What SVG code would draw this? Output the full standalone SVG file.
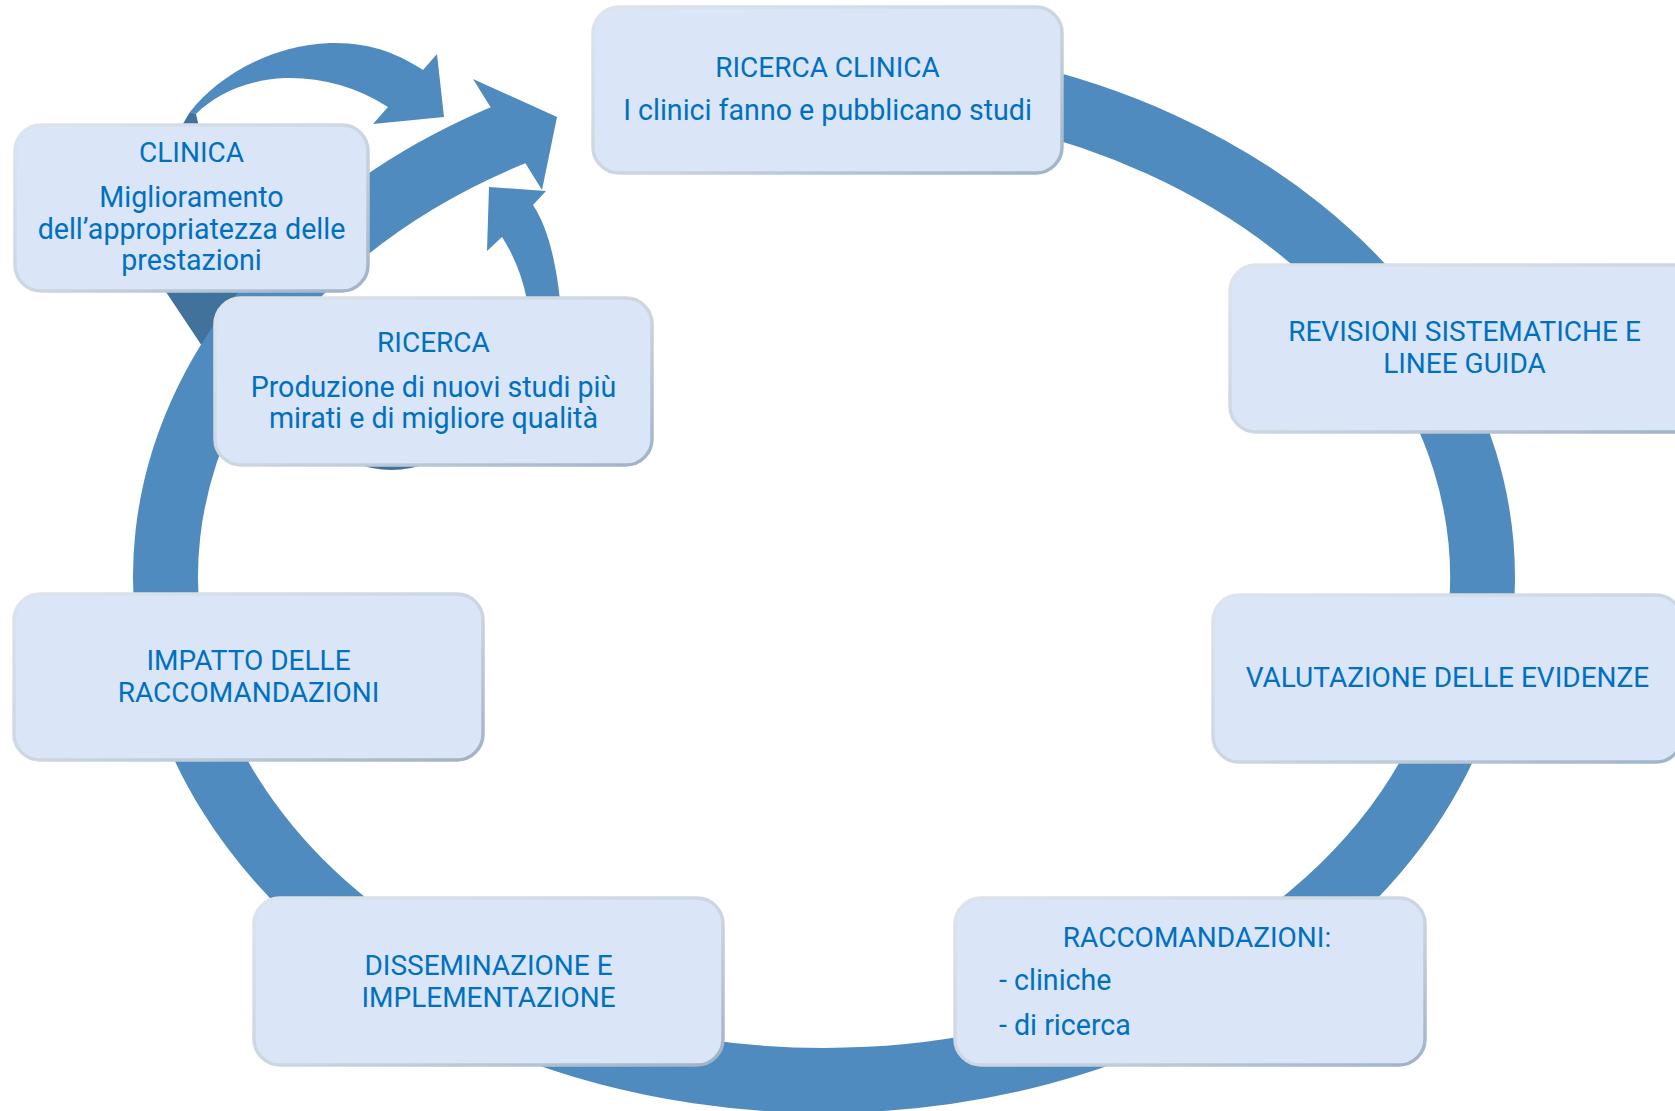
<svg xmlns="http://www.w3.org/2000/svg" width="1675" height="1111" viewBox="0 0 1675 1111">
  <defs>
    <linearGradient id="edge" x1="0" y1="0" x2="1" y2="1">
      <stop offset="0" stop-color="#DDE4EC"/>
      <stop offset="0.55" stop-color="#CBD5E0"/>
      <stop offset="1" stop-color="#9FB2C7"/>
    </linearGradient>
    <style>
      .box { fill: #DAE5F7; stroke: url(#edge); stroke-width: 3.5; }
      .flow { fill: #4F8BBF; }
      .back { fill: #41729B; }
      .ring { fill: none; stroke: #4F8BBF; stroke-width: 65; }
      text { font-family: Roboto, "Liberation Sans", Arial, sans-serif; font-size: 28px; fill: #0070C0; }
      .lc { font-size: 28.6px; }
      .c { text-anchor: middle; }
    </style>
  </defs>

  <g id="connectors">
    <!-- curved arrow rising from RICERCA toward the top -->
    <g id="loop-ricerca">
      <polygon class="back" points="158,280 240,280 240,330 202,346"/>
      <path class="back" d="M352,462 Q392,478 430,462 Z"/>
      <path class="flow" d="M527,320 L527,300 Q520,265 502,237 L487,251 L489,187 L546,191 L533,205 Q553,235 560,300 L560,320 Z"/>
    </g>
    <!-- main cycle ring -->
    <g id="cycle">
      <path class="ring" d="M700,82.5 A658.5,503.5 0 1 1 514.9,132.4"/>
      <polygon class="flow" points="473,79 557,117 542,190"/>
    </g>
    <!-- curved arrow from CLINICA over the top -->
    <g id="loop-clinica">
      <path class="flow" d="M190,112 C215,80 265,46 330,43 C372,42 400,55 423,70 L437,54 L444,117 L373,124 L388,107 C355,86 320,77 285,78 C245,80 215,95 196,114 Z"/>
      <path class="back" d="M181,127 L190,112 L196,114 L199,127 Z"/>
    </g>
  </g>

  <g id="node-ricerca-clinica">
    <rect class="box" x="593" y="7" width="469" height="166" rx="26"/>
    <text class="c" x="827.5" y="77">RICERCA CLINICA</text>
    <text class="c lc" x="827.5" y="120">I clinici fanno e pubblicano studi</text>
  </g>

  <g id="node-revisioni">
    <rect class="box" x="1230" y="265" width="469" height="167" rx="26"/>
    <text class="c" x="1464.5" y="341">REVISIONI SISTEMATICHE E</text>
    <text class="c" x="1464.5" y="373">LINEE GUIDA</text>
  </g>

  <g id="node-valutazione">
    <rect class="box" x="1213" y="595" width="469" height="167" rx="26"/>
    <text class="c" x="1447.5" y="687">VALUTAZIONE DELLE EVIDENZE</text>
  </g>

  <g id="node-raccomandazioni">
    <rect class="box" x="955" y="898" width="470" height="167" rx="26"/>
    <text class="c" x="1197" y="947">RACCOMANDAZIONI:</text>
    <text class="lc" x="999" y="990">- cliniche</text>
    <text class="lc" x="999" y="1035">- di ricerca</text>
  </g>

  <g id="node-disseminazione">
    <rect class="box" x="254" y="898" width="469" height="167" rx="26"/>
    <text class="c" x="488.5" y="975">DISSEMINAZIONE E</text>
    <text class="c" x="488.5" y="1007">IMPLEMENTAZIONE</text>
  </g>

  <g id="node-impatto">
    <rect class="box" x="14" y="594" width="469" height="166" rx="26"/>
    <text class="c" x="248.5" y="670">IMPATTO DELLE</text>
    <text class="c" x="248.5" y="702">RACCOMANDAZIONI</text>
  </g>

  <g id="node-clinica">
    <rect class="box" x="15" y="125" width="353" height="166" rx="26"/>
    <text class="c" x="191.5" y="162">CLINICA</text>
    <text class="c lc" x="191.5" y="207">Miglioramento</text>
    <text class="c lc" x="191.5" y="239">dell’appropriatezza delle</text>
    <text class="c lc" x="191.5" y="270">prestazioni</text>
  </g>

  <g id="node-ricerca">
    <rect class="box" x="215" y="298" width="437" height="167" rx="26"/>
    <text class="c" x="433.5" y="352">RICERCA</text>
    <text class="c lc" x="433.5" y="397">Produzione di nuovi studi più</text>
    <text class="c lc" x="433.5" y="428">mirati e di migliore qualità</text>
  </g>
</svg>
